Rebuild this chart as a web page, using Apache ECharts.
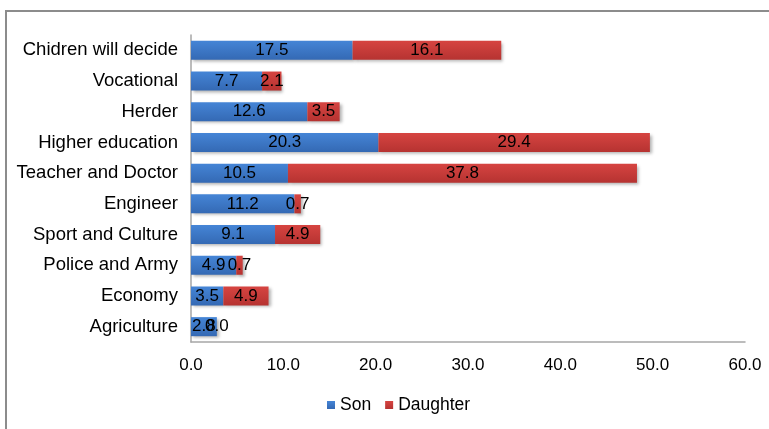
<!DOCTYPE html>
<html>
<head>
<meta charset="utf-8">
<script src="https://cdn.jsdelivr.net/npm/echarts@6/dist/echarts.min.js"></script>
<style>
  html, body { margin: 0; padding: 0; background: #fff; }
  #chart { width: 769px; height: 429px; }
</style>
</head>
<body>
<div id="chart"></div>
<script>
// categories bottom to top
var categories = ['Agriculture', 'Economy', 'Police and Army', 'Sport and Culture', 'Engineer',
  'Teacher and Doctor', 'Higher education', 'Herder', 'Vocational', 'Chidren will decide']
var sonValues = [2.8, 3.5, 4.9, 9.1, 11.2, 10.5, 20.3, 12.6, 7.7, 17.5]
var daughterValues = [0.0, 4.9, 0.7, 4.9, 0.7, 37.8, 29.4, 3.5, 2.1, 16.1]
var xTicks = [0, 10, 20, 30, 40, 50, 60]

var myChart = echarts.init(document.getElementById('chart'))

function barColor(top, bottom) {
  return {
    type: 'linear', x: 0, y: 0, x2: 0, y2: 1,
    colorStops: [{ offset: 0, color: top }, { offset: 1, color: bottom }]
  }
}

var labelStyle = {
  show: true,
  position: 'inside',
  color: '#000',
  fontFamily: 'Liberation Sans',
  fontSize: 17,
  formatter: function(p) { return p.value.toFixed(1) }
}

var option = {
  animation: false,
  color: ['#3f7dcc', '#cc3d3b'],
  graphic: [{
    type: 'rect',
    shape: { x: 6, y: 11, width: 900, height: 600 },
    style: { fill: 'none', stroke: '#8c8c8c', lineWidth: 2 },
    silent: true
  }],
  legend: {
    data: ['Son', 'Daughter'],
    bottom: 10,
    left: 322,
    itemWidth: 8,
    itemHeight: 8,
    itemGap: 14,
    icon: 'rect',
    textStyle: { fontFamily: 'Liberation Sans', fontSize: 17.5, color: '#000' }
  },
  grid: {
    left: 191,
    right: 24,
    top: 35,
    bottom: 87
  },
  xAxis: {
    type: 'value',
    min: xTicks[0],
    max: xTicks[xTicks.length - 1],
    interval: 10,
    axisLine: { show: true, lineStyle: { color: '#a6a6a6', width: 1.5 } },
    axisTick: { show: false },
    splitLine: { show: false },
    axisLabel: {
      margin: 15,
      fontFamily: 'Liberation Sans',
      fontSize: 17,
      color: '#000',
      formatter: function(v) { return v.toFixed(1) }
    }
  },
  yAxis: {
    type: 'category',
    data: categories,
    axisLine: { show: true, lineStyle: { color: '#a6a6a6', width: 1.5 } },
    axisTick: { show: false },
    axisLabel: {
      margin: 13,
      fontFamily: 'Liberation Sans',
      fontSize: 18.5,
      color: '#000'
    }
  },
  series: [{
    name: 'Son',
    type: 'bar',
    stack: 'total',
    barCategoryGap: '38%',
    data: sonValues,
    label: labelStyle,
    itemStyle: {
      color: barColor('#4585d6', '#3469b4'),
      shadowColor: 'rgba(0,0,0,0.3)',
      shadowBlur: 3,
      shadowOffsetX: 2,
      shadowOffsetY: 2
    }
  }, {
    name: 'Daughter',
    type: 'bar',
    stack: 'total',
    data: daughterValues,
    label: labelStyle,
    itemStyle: {
      color: barColor('#d64441', '#b63331'),
      shadowColor: 'rgba(0,0,0,0.3)',
      shadowBlur: 3,
      shadowOffsetX: 2,
      shadowOffsetY: 2
    }
  }]
}

myChart.setOption(option)
</script>
</body>
</html>
